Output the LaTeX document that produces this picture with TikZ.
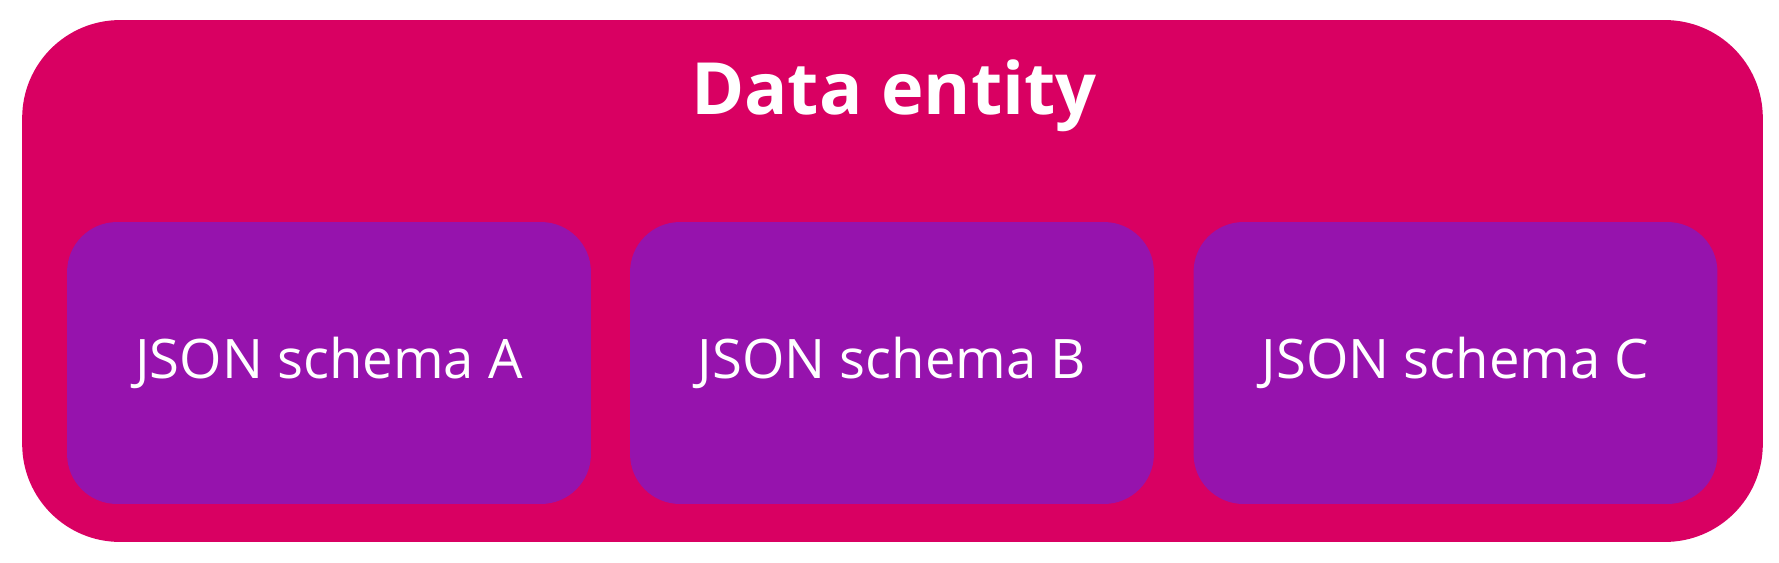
\documentclass[tikz,border=0pt]{standalone}
\usepackage{fontspec}
\setmainfont{Open Sans}
\usepackage{tikz}
\usetikzlibrary{positioning}

\definecolor{entitypink}{HTML}{D90062}
\definecolor{schemapurple}{HTML}{9613AD}

\tikzset{
	entitybox/.style={fill=entitypink, draw=none, rounded corners=1.96cm,
		minimum width=34.82cm, minimum height=10.44cm, inner sep=0pt},
	schemabox/.style={fill=schemapurple, draw=none, rounded corners=1cm,
		minimum width=10.48cm, minimum height=5.64cm, inner sep=0pt,
		text=white, font=\fontsize{31}{37}\selectfont},
	titletext/.style={text=white, font=\bfseries\fontsize{41}{49}\selectfont, inner sep=0pt}
}

\begin{document}
\begin{tikzpicture}[x=0.02cm, y=-0.02cm]
		% Fix the page to the size of the reference
		\useasboundingbox (0,0) rectangle (1779,562);
		
		% Draw the outer box for the data entity
		\node[entitybox] (entity) at (892.5,281) {};
		\node[titletext, anchor=base] (title) at (894,114) {Data entity};
		
		% Draw the three schema boxes
		\node[schemabox] (schemaA) at (329,363) {JSON schema A};
		\node[schemabox] (schemaB) at (892,363) {JSON schema B};
		\node[schemabox] (schemaC) at (1455.5,363) {JSON schema C};

	\end{tikzpicture}
\end{document}
